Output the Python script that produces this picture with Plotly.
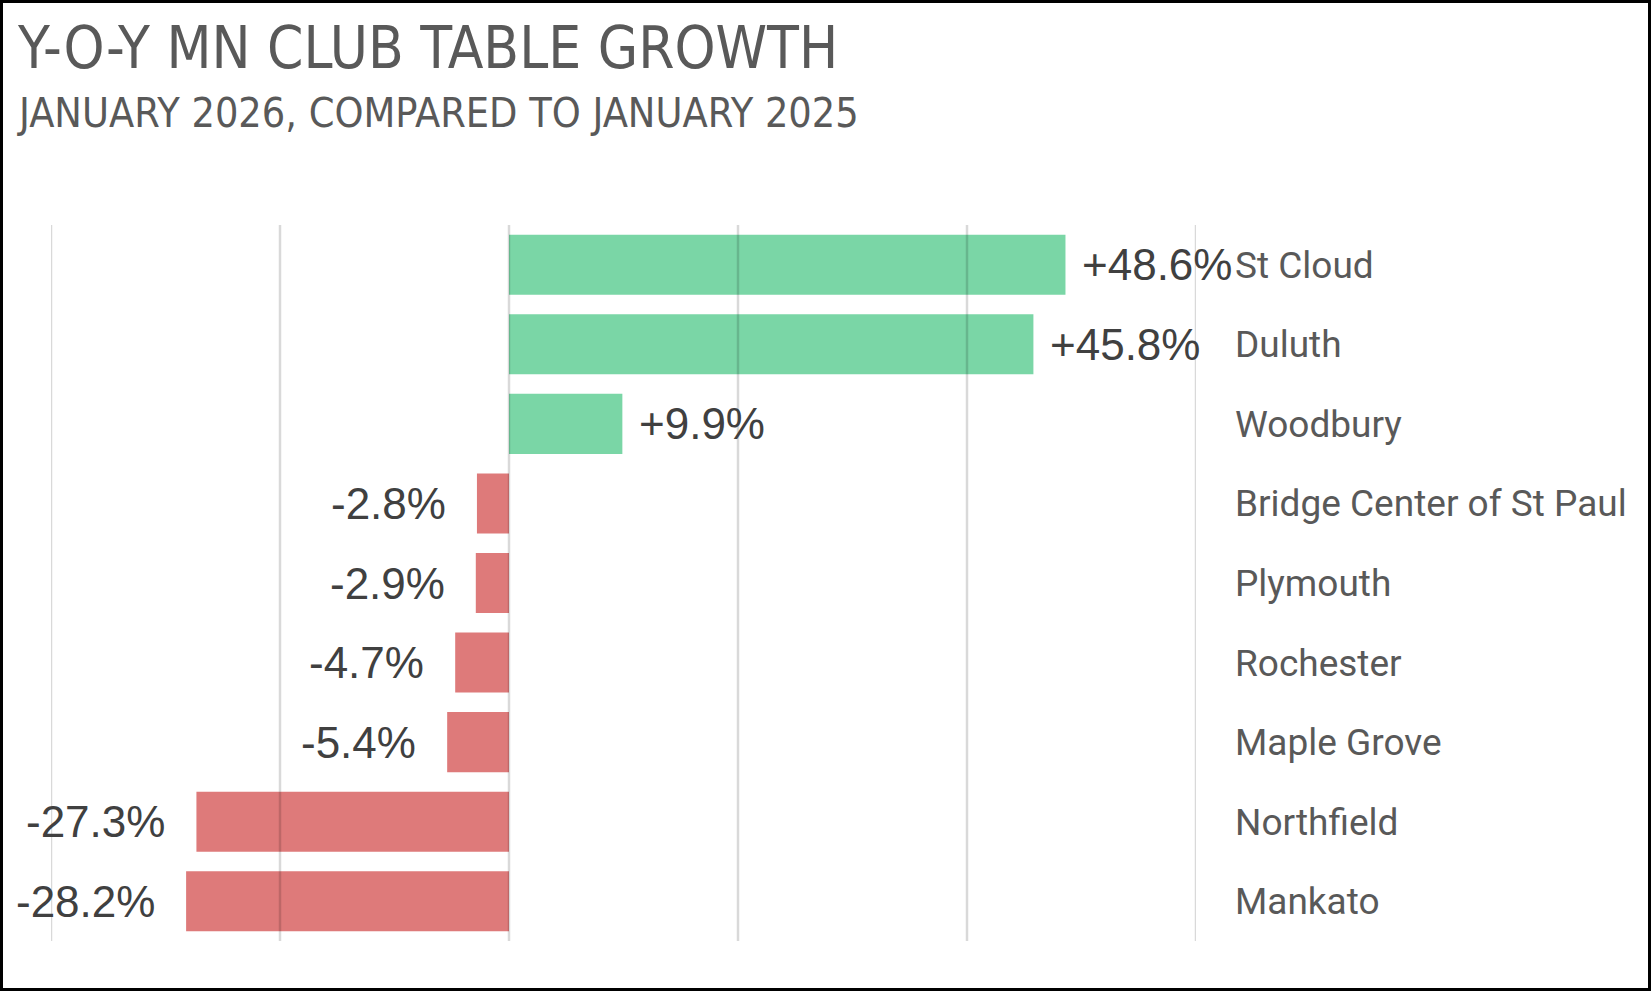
import plotly.graph_objects as go

# club growth, Jan 2026 vs Jan 2025 (percent)
clubs = ["St Cloud", "Duluth", "Woodbury", "Bridge Center of St Paul", "Plymouth",
         "Rochester", "Maple Grove", "Northfield", "Mankato"]
growth = [48.6, 45.8, 9.9, -2.8, -2.9, -4.7, -5.4, -27.3, -28.2]
grid_ticks = [-40, -20, 0, 20, 40, 60]

GREEN = "#7AD6A6"
RED = "#DE7A7A"

W, H = 1652, 992
ML, MR, MT, MB = 51, 456, 225, 51
PW = W - ML - MR
PH = H - MT - MB


def px_x(p):
    return (p - ML) / PW


def px_y(p):
    return 1 - (p - MT) / PH


colors = [GREEN if v >= 0 else RED for v in growth]

fig = go.Figure(go.Bar(
    x=growth, y=clubs, orientation="h",
    marker=dict(color=colors, line=dict(width=0)),
    hoverinfo="skip",
))

# value labels
for c, v in zip(clubs, growth):
    fig.add_annotation(
        x=v, y=c, xref="x", yref="y",
        text=f"{v:+.1f}%",
        showarrow=False,
        xanchor="left" if v >= 0 else "right",
        xshift=15 if v >= 0 else -29,
        font=dict(family="Liberation Sans, Arial", size=44, color="#404040"),
    )

# gridlines drawn over the bars, like the original
for t in grid_ticks:
    fig.add_shape(type="line", xref="x", yref="paper", x0=t, x1=t, y0=0, y1=1,
                  line=dict(color="rgba(0,0,0,0.15)", width=2.5), layer="above")

# title + subtitle
fig.add_annotation(
    x=px_x(15), y=px_y(48), xref="paper", yref="paper",
    text="Y-O-Y MN CLUB TABLE GROWTH", showarrow=False,
    xanchor="left", yanchor="middle",
    font=dict(family="DejaVu Sans Condensed", size=58, color="#595959"),
)
fig.add_annotation(
    x=px_x(15), y=px_y(113), xref="paper", yref="paper",
    text="JANUARY 2026, COMPARED TO JANUARY 2025", showarrow=False,
    xanchor="left", yanchor="middle",
    font=dict(family="DejaVu Sans Condensed", size=41, color="#595959"),
)

# outer frame
fig.add_shape(type="rect", xref="paper", yref="paper",
              x0=px_x(1.5), x1=px_x(W - 2.5), y0=px_y(H - 2.5), y1=px_y(1.5),
              line=dict(color="black", width=3), fillcolor="rgba(0,0,0,0)")

fig.update_layout(
    width=W, height=H,
    margin=dict(l=ML, r=MR, t=MT, b=MB),
    paper_bgcolor="white", plot_bgcolor="white",
    bargap=0.245,
    showlegend=False,
    xaxis=dict(range=[-40, 60], showgrid=False, zeroline=False,
               showticklabels=False, showline=False, fixedrange=True),
    yaxis=dict(autorange="reversed", side="right", showgrid=False,
               showline=False, ticks="", ticklabelstandoff=38,
               tickfont=dict(family="Roboto", size=37, color="#595959")),
)

fig.write_html("out.html", config={"displayModeBar": False},
               post_script="document.body.style.margin='0';")
